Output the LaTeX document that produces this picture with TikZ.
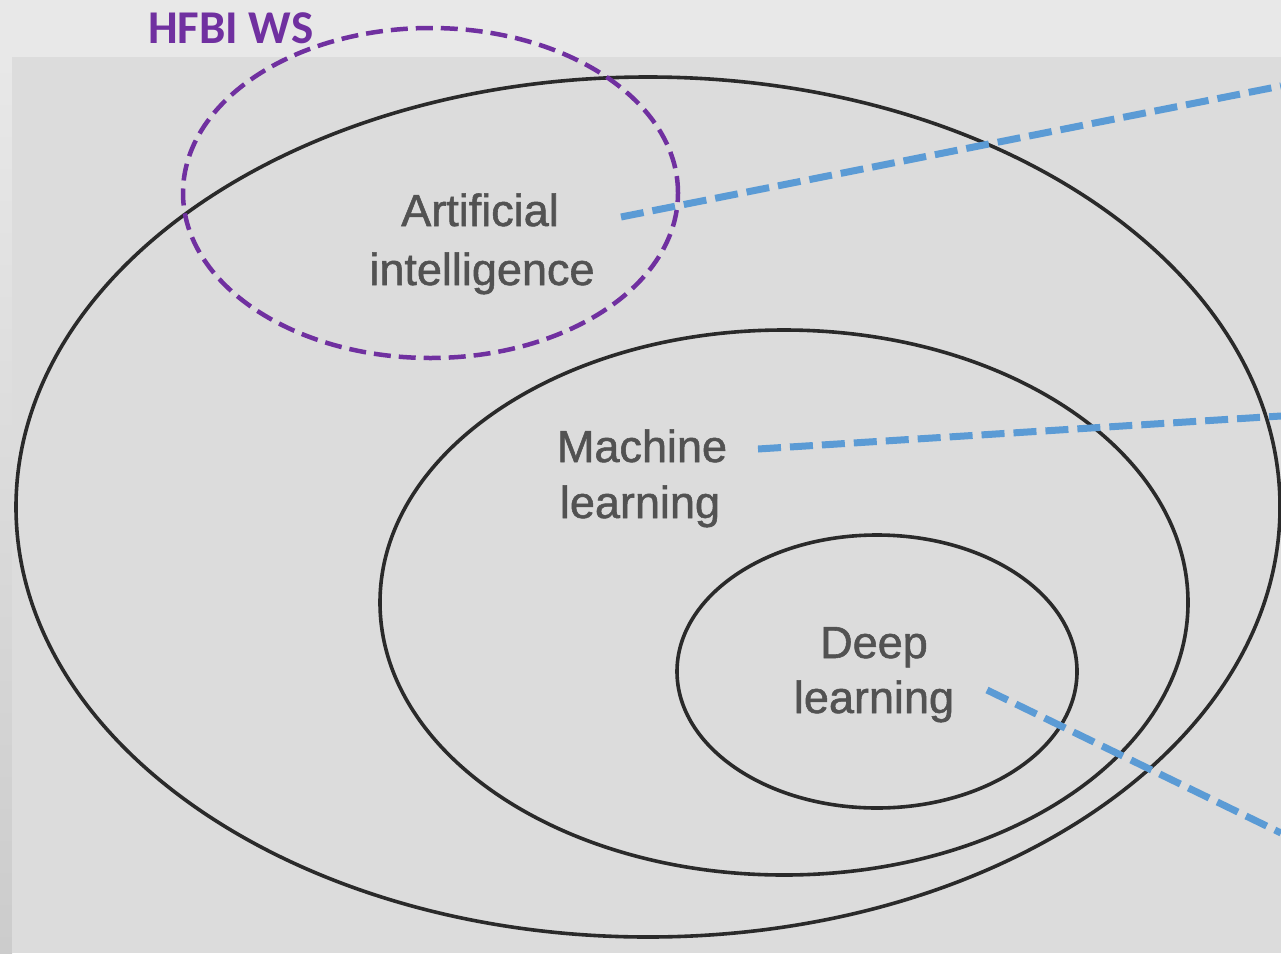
\documentclass[tikz,border=0pt]{standalone}
\usepackage{fontspec}
\setmainfont{Liberation Sans}
\newfontfamily\lblfont[FakeBold=1.2]{Liberation Sans}
\newfontfamily\hfbifont{Carlito}
\definecolor{outerbg}{HTML}{E8E8E8}
\definecolor{innerbg}{HTML}{DCDCDC}
\definecolor{ringcol}{HTML}{2A2A2A}
\definecolor{hfbipurple}{HTML}{7030A0}
\definecolor{linkblue}{HTML}{5B9BD5}
\definecolor{labelgray}{HTML}{525252}
\begin{document}
\begin{tikzpicture}[x=1pt,y=-1pt,
  ring/.style={draw=ringcol,line width=3.6pt},
  wsring/.style={draw=hfbipurple,line width=4.5pt,dash pattern=on 17pt off 8pt},
  link/.style={draw=linkblue,line width=7pt,dash pattern=on 23pt off 9pt},
  lbl/.style={anchor=base,inner sep=0pt,text=labelgray,font=\lblfont\fontsize{45}{54}\selectfont},
  ttl/.style={anchor=base west,inner sep=0pt,text=hfbipurple,font=\hfbifont\bfseries\fontsize{47}{56}\selectfont}]
\useasboundingbox (0,0) rectangle (1281,953);
\fill[outerbg] (0,0) rectangle (1281,953);
\shade[top color=outerbg,bottom color=black!20] (0,57) rectangle (12,953);
\fill[innerbg] (12,57) rectangle (1281,953);
% rings
\draw[ring] (648,507) ellipse [x radius=632pt,y radius=430pt];
\draw[ring] (784,602.5) ellipse [x radius=404pt,y radius=272.5pt];
\draw[ring] (877,671.5) ellipse [x radius=200pt,y radius=136.5pt];
% labels
\node[lbl] (ai1) at (480,226) {Artificial};
\node[lbl] (ai2) at (482,285) {intelligence};
\node[lbl] (ml1) at (642,462) {Machine};
\node[lbl] (ml2) at (640,518) {learning};
\node[lbl] (dl1) at (874,658) {Deep};
\node[lbl] (dl2) at (874,713) {learning};
% HFBI WS
\draw[wsring] (430.5,193) ellipse [x radius=247.5pt,y radius=165pt];
\node[ttl] (ws) at (148,43) {HFBI WS};
% links
\coordinate (a1) at (621,217);
\coordinate (a2) at (1281,86);
\coordinate (m1) at (758,449);
\coordinate (m2) at (1281,416);
\coordinate (d1) at (987,690);
\coordinate (d2) at (1281,833);
\begin{scope}
\clip (0,0) rectangle (1281,953);
\draw[link] (a1) -- (a2);
\draw[link] (m1) -- (m2);
\draw[link] (d1) -- (d2);
\end{scope}
\end{tikzpicture}
\end{document}
